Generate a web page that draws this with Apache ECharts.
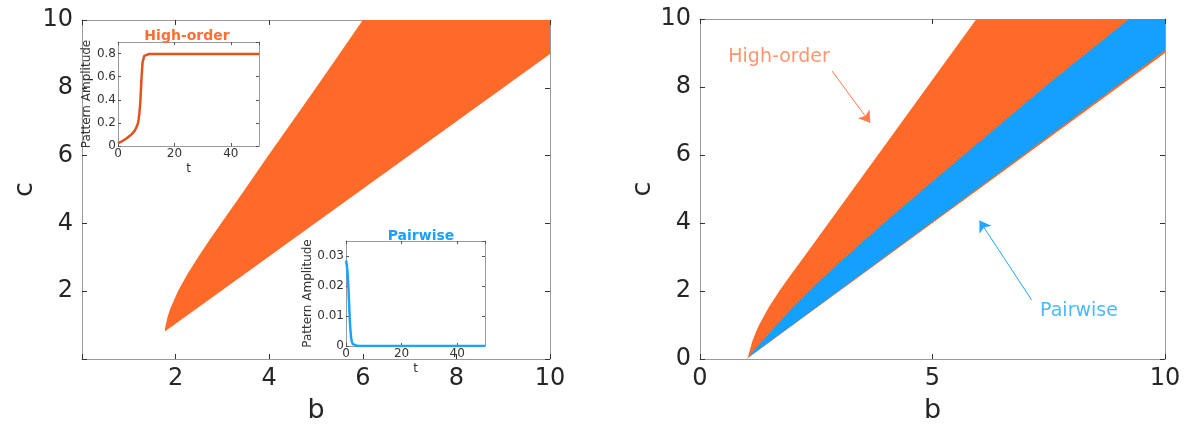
<!DOCTYPE html>
<html>
<head>
<meta charset="utf-8">
<script src="https://cdn.jsdelivr.net/npm/echarts@6/dist/echarts.min.js"></script>
<style>
html,body{margin:0;padding:0;background:#fff;}
#chart{width:1191px;height:434px;}
</style>
</head>
<body>
<div id="chart"></div>
<script>
// ---------- data ----------
// Left panel: high-order pattern region, boundary points (b, c)
var leftUpper = [[1.77,0.82],[1.775,0.9],[1.79,1.0],[1.83,1.25],[1.89,1.5],[2.05,2.0],[2.25,2.5],[2.48,3.0],[2.72,3.5],[2.97,4.0],[3.48,5.0],[3.98,6.0],[4.49,7.0],[5.0,8.0],[5.5,9.0],[6.0,10.0]];
var leftLower = [[10,10],[10,9.0],[1.77,0.81]];
// Right panel: high-order region (orange) and pairwise region (blue)
var rightOrangeUpper = [[1.02,0.0],[1.05,0.15],[1.08,0.3],[1.12,0.5],[1.19,0.75],[1.27,1.0],[1.37,1.25],[1.47,1.5],[1.705,2.0],[1.965,2.5],[2.235,3.0],[2.765,4.0],[3.295,5.0],[3.825,6.0],[4.355,7.0],[4.885,8.0],[5.415,9.0],[5.945,10.0]];
var rightOrangeLower = [[10,10],[10,9.0],[1.0,0.0]];
var rightBlueUpper = [[1.03,0.04],[1.3,0.47],[1.6,0.93],[2.0,1.52],[2.5,2.2],[3.0,2.84],[4.0,4.05],[5.0,5.22],[6.13,6.52],[7.5,8.1],[9.23,10.0]];
var rightBlueLower = [[10,10],[10,9.08]];
// Annotations (data coords)
var hoLabel = [1.70, 8.87];
var hoArrow = [[2.84,8.47],[3.66,6.95]];
var pwLabel = [8.15, 1.40];
var pwArrow = [[7.13,1.74],[6.01,4.07]];
// Insets: pattern amplitude vs t
var hoT = [0,1,2,3,4,5,6,6.5,7,7.3,7.6,7.9,8.3,8.7,9.3,10,11,12,15,20,30,40,50];
var hoA = [0.023,0.035,0.05,0.065,0.085,0.105,0.135,0.16,0.19,0.225,0.29,0.37,0.57,0.72,0.78,0.793,0.796,0.797,0.797,0.797,0.797,0.797,0.797];
var pwT = [0,0.3,0.6,0.9,1.2,1.5,1.8,2.1,2.5,3,4,5,10,20,30,40,50];
var pwA = [0.0285,0.027,0.024,0.019,0.012,0.0065,0.003,0.0014,0.0006,0.0002,0.00005,0,0,0,0,0,0];

// ---------- styles ----------
var FONT = 'DejaVu Sans';
var TXT = '#262626';
var FRAME = '#9a9a9a';
var ORANGE = '#FF6A29';
var BLUE = '#14A0FF';
var HO_NOTE = '#FF7A4C';
var PW_NOTE = '#22A6FF';

function zip(a,b){return a.map(function(v,i){return [v,b[i]];});}

function poly(xi, yi, pts, color, z){
  return {
    type:'custom', xAxisIndex:xi, yAxisIndex:yi, z:z, silent:true, animation:false,
    encode:{x:0,y:1}, data:pts,
    renderItem:function(params, api){
      if(params.dataIndex!==0) return null;
      return {type:'polygon', shape:{points:pts.map(function(p){return api.coord(p);})}, style:{fill:color}};
    }
  };
}

function mainX(grid, interval, hideZero, pos){
  var top = pos==='top';
  return {
    type:'value', gridIndex:grid, position:pos, min:0, max:10, interval:interval,
    axisLine:{show:true, onZero:false, lineStyle:{color:FRAME, width:1}},
    axisTick:{show:true, inside:true, length:5, lineStyle:{color:'#333'}},
    axisLabel:{show:!top, color:TXT, fontFamily:FONT, fontSize:24, margin:8,
      formatter:function(v){return (hideZero && v===0)?'':String(v);}},
    splitLine:{show:false},
    name: top?'':'b', nameLocation:'middle', nameGap:38,
    nameTextStyle:{color:TXT, fontFamily:FONT, fontSize:27}
  };
}
function mainY(grid, interval, hideZero, pos){
  var right = pos==='right';
  return {
    type:'value', gridIndex:grid, position:pos, min:0, max:10, interval:interval,
    axisLine:{show:true, onZero:false, lineStyle:{color:FRAME, width:1}},
    axisTick:{show:true, inside:true, length:5, lineStyle:{color:'#333'}},
    axisLabel:{show:!right, color:TXT, fontFamily:FONT, fontSize:24, margin:9,
      formatter:function(v){return (hideZero && v===0)?'':String(v);}},
    splitLine:{show:false},
    name: right?'':'c', nameLocation:'middle', nameGap:44,
    nameTextStyle:{color:TXT, fontFamily:FONT, fontSize:27}
  };
}
function insetX(grid, pos){
  var top = pos==='top';
  return {
    type:'value', gridIndex:grid, position:pos, min:0, max:50, interval:20, z:6,
    axisLine:{show:true, onZero:false, lineStyle:{color:FRAME, width:1}},
    axisTick:{show:true, inside:true, length:3, lineStyle:{color:'#555'}},
    axisLabel:{show:!top, showMaxLabel:false, color:'#333', fontFamily:FONT, fontSize:12, margin:2},
    splitLine:{show:false},
    name: top?'':'t', nameLocation:'middle', nameGap:17,
    nameTextStyle:{color:'#333', fontFamily:FONT, fontSize:12}
  };
}
function insetY(grid, pos, max, interval){
  var right = pos==='right';
  return {
    type:'value', gridIndex:grid, position:pos, min:0, max:max, interval:interval, z:6,
    axisLine:{show:true, onZero:false, lineStyle:{color:FRAME, width:1}},
    axisTick:{show:true, inside:true, length:3, lineStyle:{color:'#555'}},
    axisLabel:{show:!right, showMaxLabel:false, color:'#333', fontFamily:FONT, fontSize:12, margin:2},
    splitLine:{show:false},
    name: right?'':'Pattern Amplitude', nameLocation:'middle', nameGap:20,
    nameTextStyle:{color:'#333', fontFamily:FONT, fontSize:12}
  };
}
function note(xy, text, color, arrow){
  return {
    type:'scatter', xAxisIndex:2, yAxisIndex:2, z:4, silent:true, animation:false,
    symbolSize:1, itemStyle:{color:'transparent'},
    data:[xy],
    label:{show:true, position:'inside', formatter:text, color:color, fontFamily:FONT, fontSize:19},
    markLine:{silent:true, animation:false, symbol:['none','arrow'], symbolSize:11,
      itemStyle:{color:color},
      lineStyle:{color:color, width:1, type:'solid', opacity:1}, label:{show:false},
      emphasis:{disabled:true},
      data:[[{coord:arrow[0], itemStyle:{color:color}},{coord:arrow[1], itemStyle:{color:color}}]]}
  };
}

var option = {
  backgroundColor:'#fff',
  animation:false,
  title:[
    {text:'High-order', left:182, top:24, textAlign:'center',
     textStyle:{color:'#FF6E32', fontFamily:FONT, fontSize:14, fontWeight:'bold'}},
    {text:'Pairwise', left:416, top:224, textAlign:'center',
     textStyle:{color:'#1E9FFF', fontFamily:FONT, fontSize:14, fontWeight:'bold'}}
  ],
  grid:[
    {left:82, top:20, width:468, height:339, show:false},
    {left:700, top:19, width:465, height:340, show:false},
    {left:118, top:42, width:141, height:104, show:true, backgroundColor:'#fff', borderWidth:0, z:5},
    {left:346, top:241, width:139, height:105, show:true, backgroundColor:'#fff', borderWidth:0, z:5}
  ],
  xAxis:[
    mainX(0,2,true,'bottom'), mainX(0,2,true,'top'),
    mainX(1,5,false,'bottom'), mainX(1,5,false,'top'),
    insetX(2,'bottom'), insetX(2,'top'),
    insetX(3,'bottom'), insetX(3,'top')
  ],
  yAxis:[
    mainY(0,2,true,'left'), mainY(0,2,true,'right'),
    mainY(1,2,false,'left'), mainY(1,2,false,'right'),
    insetY(2,'left',0.9,0.2), insetY(2,'right',0.9,0.2),
    insetY(3,'left',0.035,0.01), insetY(3,'right',0.035,0.01)
  ],
  series:[
    poly(0,0, leftUpper.concat(leftLower), ORANGE, 2),
    poly(2,2, rightOrangeUpper.concat(rightOrangeLower), ORANGE, 2),
    poly(2,2, rightBlueUpper.concat(rightBlueLower), BLUE, 3),
    note(hoLabel, 'High-order', HO_NOTE, hoArrow),
    note(pwLabel, 'Pairwise', PW_NOTE, pwArrow),
    {
      type:'line', xAxisIndex:4, yAxisIndex:4, z:7, showSymbol:false, symbol:'none', animation:false,
      data:zip(hoT,hoA), lineStyle:{color:'#E0541C', width:2.5}
    },
    {
      type:'line', xAxisIndex:6, yAxisIndex:6, z:7, showSymbol:false, symbol:'none', animation:false,
      data:zip(pwT,pwA), lineStyle:{color:'#1AA3FF', width:2.5}
    }
  ]
};

var chart = echarts.init(document.getElementById('chart'), null, {renderer:'canvas'});
chart.setOption(option);
</script>
</body>
</html>
